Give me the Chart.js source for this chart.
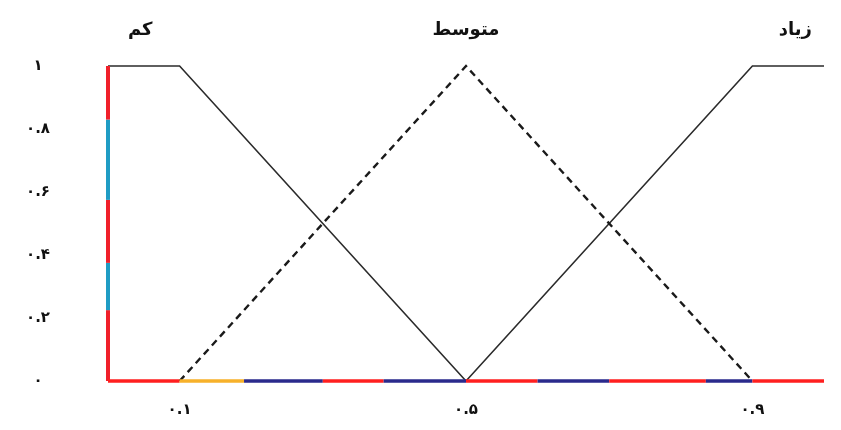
<!DOCTYPE html>
<html>
<head>
<meta charset="utf-8">
<script src="https://cdn.jsdelivr.net/npm/chart.js@4"></script>
<style>
  html, body { margin: 0; padding: 0; background: #fff; overflow: hidden; }
  canvas { display: block; }
</style>
</head>
<body>
<canvas id="fuzzyChart" width="841" height="430"></canvas>
<script>
// membership functions
const lowX = [0, 0.1, 0.5];
const lowY = [1, 1, 0];
const midX = [0.1, 0.5, 0.9];
const midY = [0, 1, 0];
const highX = [0.5, 0.9, 1];
const highY = [0, 1, 1];

const setNames = ['کم', 'متوسط', 'زیاد'];
const namePos = [0.045, 0.5, 0.96];

const xTicks = [0.1, 0.5, 0.9];
const xTickLabels = ['٠.١', '٠.۵', '٠.٩'];
const yTicks = [0, 0.2, 0.4, 0.6, 0.8, 1];
const yTickLabels = ['٠', '٠.٢', '٠.۴', '٠.۶', '٠.٨', '١'];

// coloured axis strokes (break points and colour per piece)
const xAxisBreaks = [0, 0.1, 0.19, 0.3, 0.385, 0.5, 0.6, 0.7, 0.835, 0.9, 1];
const xAxisColors = ['#ff1f1f', '#f7b12a', '#2a2a8c', '#ff1f1f', '#2a2a8c', '#ff1f1f', '#2a2a8c', '#ff1f1f', '#2a2a8c', '#ff1f1f'];
const yAxisBreaks = [0, 0.225, 0.375, 0.575, 0.83, 1];
const yAxisColors = ['#f0202a', '#1f9cc4', '#f0202a', '#1f9cc4', '#f0202a'];

const toPts = (xs, ys) => xs.map((x, i) => ({ x: x, y: ys[i] }));

const lineFont = "bold 18px 'DejaVu Sans', sans-serif";

const setLabels = {
    id: 'setLabels',
    afterDraw(chart) {
        const c = chart.ctx;
        const xs = chart.scales.x;
        c.save();
        c.font = lineFont;
        c.fillStyle = '#111';
        c.textAlign = 'center';
        c.textBaseline = 'middle';
        setNames.forEach((name, i) => {
            c.fillText(name, xs.getPixelForValue(namePos[i]), 30);
        });
        c.restore();
    }
};

const ctx = document.getElementById('fuzzyChart').getContext('2d');
new Chart(ctx, {
    type: 'line',
    data: {
        datasets: [
            {
                data: toPts(lowX, lowY),
                borderColor: '#2b2b2b',
                borderWidth: 1.6,
                pointRadius: 0,
                order: 3
            },
            {
                data: toPts(midX, midY),
                borderColor: '#1a1a1a',
                borderWidth: 2.4,
                borderDash: [7, 5],
                pointRadius: 0,
                order: 3
            },
            {
                data: toPts(highX, highY),
                borderColor: '#2b2b2b',
                borderWidth: 1.6,
                pointRadius: 0,
                order: 3
            },
            {
                data: xAxisBreaks.map(x => ({ x: x, y: 0 })),
                borderWidth: 3.5,
                pointRadius: 0,
                segment: { borderColor: s => xAxisColors[s.p0DataIndex] },
                order: 1
            },
            {
                data: yAxisBreaks.map(y => ({ x: 0, y: y })),
                borderWidth: 4,
                pointRadius: 0,
                segment: { borderColor: s => yAxisColors[s.p0DataIndex] },
                order: 2
            }
        ]
    },
    options: {
        responsive: false,
        animation: false,
        clip: false,
        layout: { padding: { top: 66, right: 17, left: 0, bottom: 0 } },
        plugins: { legend: { display: false }, tooltip: { enabled: false } },
        scales: {
            x: {
                type: 'linear',
                min: 0,
                max: 1,
                grid: { display: false, drawTicks: false },
                border: { display: false },
                afterBuildTicks: axis => { axis.ticks = xTicks.map(v => ({ value: v })); },
                afterFit: axis => { axis.height = 49; },
                ticks: {
                    padding: 20,
                    color: '#111',
                    font: { family: "'DejaVu Sans', sans-serif", size: 15, weight: 'bold' },
                    callback: (v) => xTickLabels[xTicks.indexOf(v)],
                    autoSkip: false,
                    maxRotation: 0
                }
            },
            y: {
                min: 0,
                max: 1,
                grid: { display: false, drawTicks: false },
                border: { display: false },
                afterBuildTicks: axis => { axis.ticks = yTicks.map(v => ({ value: v })); },
                afterFit: axis => {
                    axis.width = 108;
                    // the big label gap should not push the plot area
                    axis.paddingTop = 0;
                    axis.paddingBottom = 0;
                },
                ticks: {
                    crossAlign: 'center',
                    padding: 58,
                    color: '#111',
                    font: { family: "'DejaVu Sans', sans-serif", size: 15, weight: 'bold' },
                    callback: (v) => yTickLabels[yTicks.indexOf(v)]
                }
            }
        }
    },
    plugins: [setLabels]
});
</script>
</body>
</html>
